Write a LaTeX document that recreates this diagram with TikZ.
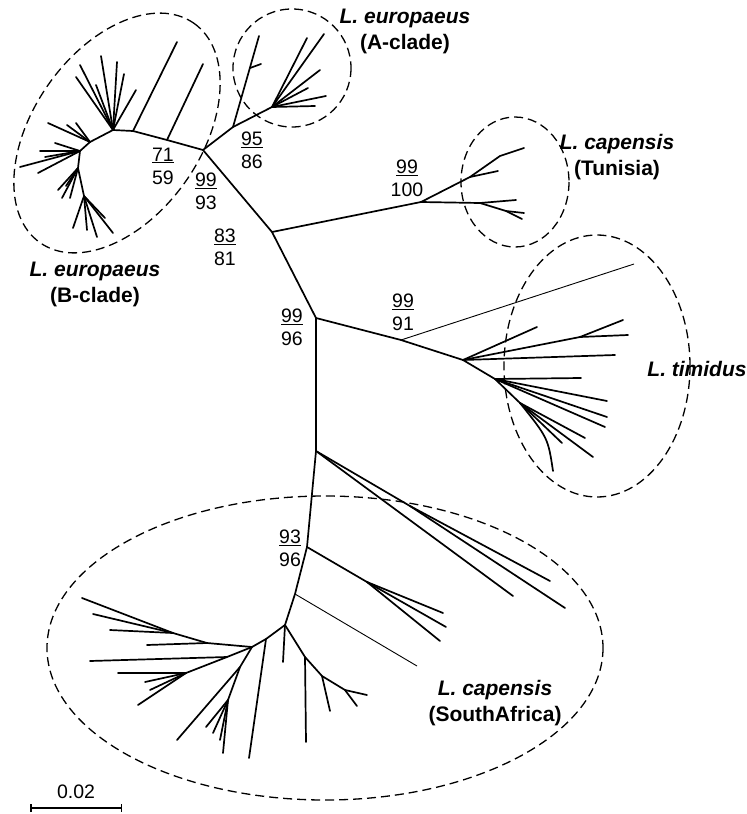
\documentclass[tikz,border=0pt]{standalone}
\usepackage{fontspec}
\setmainfont{Liberation Sans}
\usetikzlibrary{arrows.meta}

\begin{document}
\begin{tikzpicture}[
    x=1pt, y=-1pt,
    branch/.style={line width=1.7pt, line cap=round, line join=round},
    thinbranch/.style={line width=0.9pt},
    clade/.style={line width=1.3pt, dash pattern=on 9pt off 5pt},
    support/.style={align=center, inner sep=0pt, font=\fontsize{19.5}{23}\selectfont},
    taxon/.style={align=center, inner sep=0pt, font=\fontsize{21}{26}\selectfont\bfseries},
  ]
  \useasboundingbox (0,0) rectangle (747,814);

  % backbone
  \coordinate (nA)  at (203,150);
  \coordinate (nB)  at (272,232);
  \coordinate (nC)  at (316,318);
  \coordinate (nD)  at (316,451);
  \coordinate (nE)  at (307,547);
  \coordinate (nS)  at (295,594);
  \coordinate (nF)  at (285,625);
  \coordinate (nT)  at (421,202);
  \coordinate (nTm) at (401,340);
  \coordinate (nTi) at (463,360);
  \draw[branch] (nA) -- (nB) -- (nC) -- (nD) -- (nE) -- (nS) -- (nF);
  \draw[branch] (nB) -- (nT);
  \draw[branch] (nC) -- (nTm) -- (nTi);
  \coordinate (thinTi) at (634,264);
  \coordinate (thinSA) at (417,666);
  \draw[thinbranch] (nTm) -- (thinTi);
  \draw[thinbranch] (nS) -- (thinSA);

  % L. europaeus, B-clade
  \coordinate (bc1) at (167,140);
  \coordinate (bc2) at (133,131);
  \coordinate (bc3) at (113,130);
  \coordinate (bc4) at (90,142);
  \coordinate (bc5) at (80,151);
  \coordinate (bc6) at (78,168);
  \coordinate (bc7) at (84,196);
  \draw[branch] (nA) -- (bc1) -- (bc2) -- (bc3) -- (bc4) -- (bc5) -- (bc6) -- (bc7);
  \coordinate (bc1t) at (203,64);
  \coordinate (bc2t) at (177,42);
  \draw[branch] (bc1) -- (bc1t);
  \draw[branch] (bc2) -- (bc2t);
  \foreach \x/\y [count=\i] in {76/77, 80/65, 101/56, 117/62, 96/85, 124/74, 136/90}
    {\coordinate (bc3t\i) at (\x,\y); \draw[branch] (bc3) -- (bc3t\i);}
  \foreach \x/\y [count=\i] in {48/123, 67/125, 76/123}
    {\coordinate (bc4t\i) at (\x,\y); \draw[branch] (bc4) -- (bc4t\i);}
  \foreach \x/\y [count=\i] in {55/143, 40/151, 20/167, 38/173, 45/157}
    {\coordinate (bc5t\i) at (\x,\y); \draw[branch] (bc5) -- (bc5t\i);}
  \foreach \x/\y [count=\i] in {58/190, 62/198, 70/198, 66/186}
    {\coordinate (bc6t\i) at (\x,\y); \draw[branch] (bc6) -- (bc6t\i);}
  \foreach \x/\y [count=\i] in {73/228, 87/230, 97/237, 113/233, 105/218}
    {\coordinate (bc7t\i) at (\x,\y); \draw[branch] (bc7) -- (bc7t\i);}

  % L. europaeus, A-clade
  \coordinate (ac1) at (233,127);
  \coordinate (ac2) at (272,107);
  \coordinate (ac1m) at (250,68);
  \draw[branch] (nA) -- (ac1) -- (ac2);
  \coordinate (ac1t) at (259,36);
  \coordinate (ac1s) at (261,64);
  \draw[branch] (ac1) -- (ac1t);
  \draw[branch] (ac1m) -- (ac1s);
  \foreach \x/\y [count=\i] in {307/38, 324/34, 320/70, 308/88, 326/96, 315/106}
    {\coordinate (ac2t\i) at (\x,\y); \draw[branch] (ac2) -- (ac2t\i);}

  % L. capensis, Tunisia
  \coordinate (tu1) at (470,177);
  \coordinate (tu2) at (500,156);
  \coordinate (tu3) at (480,203);
  \coordinate (tu4) at (506,211);
  \coordinate (tu1t) at (498,171);
  \coordinate (tu2t) at (524,148);
  \coordinate (tu3t) at (516,200);
  \coordinate (tu4a) at (524,213);
  \coordinate (tu4b) at (522,219);
  \draw[branch] (nT) -- (tu1) -- (tu2) -- (tu2t);
  \draw[branch] (tu1) -- (tu1t);
  \draw[branch] (nT) -- (tu3) -- (tu3t);
  \draw[branch] (tu3) -- (tu4) -- (tu4a);
  \draw[branch] (tu4) -- (tu4b);

  % L. timidus
  \coordinate (ti1) at (580,337);
  \coordinate (ti2) at (495,379);
  \coordinate (ti3) at (520,403);
  \draw[branch] (nTi) -- (ti1);
  \draw[branch] (nTi) -- (ti2) -- (ti3);
  \foreach \x/\y [count=\i] in {537/327, 615/355}
    {\coordinate (tit\i) at (\x,\y); \draw[branch] (nTi) -- (tit\i);}
  \foreach \x/\y [count=\i] in {628/335, 623/320}
    {\coordinate (ti1t\i) at (\x,\y); \draw[branch] (ti1) -- (ti1t\i);}
  \foreach \x/\y [count=\i] in {581/378, 607/401, 607/417, 605/427}
    {\coordinate (ti2t\i) at (\x,\y); \draw[branch] (ti2) -- (ti2t\i);}
  \foreach \x/\y [count=\i] in {585/438, 593/457, 562/443}
    {\coordinate (ti3t\i) at (\x,\y); \draw[branch] (ti3) -- (ti3t\i);}
  \coordinate (ti3c) at (553,471);
  \draw[branch] (ti3) .. controls (548,438) .. (ti3c);

  % L. capensis, South Africa
  \coordinate (sd1) at (410,506);
  \coordinate (se1) at (367,582);
  \draw[branch] (nD) -- (sd1);
  \draw[branch] (nE) -- (se1);
  \coordinate (sdt) at (513,596);
  \draw[branch] (nD) -- (sdt);
  \foreach \x/\y [count=\i] in {550/581, 565/608}
    {\coordinate (sd1t\i) at (\x,\y); \draw[branch] (sd1) -- (sd1t\i);}
  \foreach \x/\y [count=\i] in {443/613, 446/627, 440/641}
    {\coordinate (se1t\i) at (\x,\y); \draw[branch] (se1) -- (se1t\i);}
  \coordinate (fa) at (266,639);
  \coordinate (fb) at (252,647);
  \coordinate (fc) at (305,657);
  \coordinate (fd) at (322,676);
  \coordinate (fe) at (345,690);
  \coordinate (fg) at (207,643);
  \coordinate (fh) at (173,633);
  \coordinate (fi) at (227,657);
  \coordinate (fj) at (186,673);
  \coordinate (fk) at (240,667);
  \coordinate (fl) at (228,700);
  \draw[branch] (nF) -- (fa) -- (fb) -- (fg) -- (fh);
  \draw[branch] (nF) -- (fc) -- (fd) -- (fe);
  \draw[branch] (fb) -- (fi) -- (fj);
  \draw[branch] (fb) -- (fk) -- (fl);
  \coordinate (fat) at (249,758);
  \coordinate (nFt) at (283,662);
  \coordinate (fct) at (306,742);
  \coordinate (fdt) at (330,711);
  \coordinate (fgt) at (147,645);
  \coordinate (fit) at (90,661);
  \coordinate (fkt) at (177,740);
  \draw[branch] (fa) -- (fat);
  \draw[branch] (nF) -- (nFt);
  \draw[branch] (fc) -- (fct);
  \draw[branch] (fd) -- (fdt);
  \draw[branch] (fg) -- (fgt);
  \draw[branch] (fi) -- (fit);
  \draw[branch] (fk) -- (fkt);
  \foreach \x/\y [count=\i] in {367/695, 357/706}
    {\coordinate (fet\i) at (\x,\y); \draw[branch] (fe) -- (fet\i);}
  \foreach \x/\y [count=\i] in {82/598, 93/614, 110/630}
    {\coordinate (fht\i) at (\x,\y); \draw[branch] (fh) -- (fht\i);}
  \foreach \x/\y [count=\i] in {118/673, 145/682, 150/690, 138/705}
    {\coordinate (fjt\i) at (\x,\y); \draw[branch] (fj) -- (fjt\i);}
  \foreach \x/\y [count=\i] in {223/753, 206/727, 213/733, 220/740}
    {\coordinate (flt\i) at (\x,\y); \draw[branch] (fl) -- (flt\i);}

  % clades
  \draw[clade, rotate around={55:(117,133)}] (117,133) ellipse [x radius=134, y radius=84];
  \draw[clade] (292,68) circle [radius=59];
  \draw[clade] (515,182) ellipse [x radius=54, y radius=65];
  \draw[clade] (597,366) ellipse [x radius=93, y radius=131];
  \draw[clade] (325,648) ellipse [x radius=278, y radius=152];

  % support values
  \node[support] (s7159)  at (163,166) {\underline{71}\\59};
  \node[support] (s9993)  at (206,191) {\underline{99}\\93};
  \node[support] (s9586)  at (252,150) {\underline{95}\\86};
  \node[support] (s8381)  at (225,247) {\underline{83}\\81};
  \node[support] (s99100) at (407,178) {\underline{99}\\100};
  \node[support] (s9996)  at (292,327) {\underline{99}\\96};
  \node[support] (s9991)  at (403,312) {\underline{99}\\91};
  \node[support] (s9396)  at (290,548) {\underline{93}\\96};

  % taxa
  \node[taxon] (eurB) at (95,284)  {\itshape L. europaeus\\(B-clade)};
  \node[taxon] (eurA) at (405,31)  {\itshape L. europaeus\\(A-clade)};
  \node[taxon] (capT) at (617,157) {\itshape L. capensis\\(Tunisia)};
  \node[taxon] (tim)  at (697,369) {\itshape L. timidus};
  \node[taxon] (capS) at (495,703) {\itshape L. capensis\\(SouthAfrica)};

  % scale bar
  \coordinate (sb1) at (30,808);
  \coordinate (sb2) at (122,808);
  \draw[line width=1.5pt, {Bar[width=8pt]}-{Bar[width=8pt]}] (sb1) -- (sb2)
    node[midway, above=5pt, font=\fontsize{19.5}{23}\selectfont] {0.02};
\end{tikzpicture}
\end{document}
